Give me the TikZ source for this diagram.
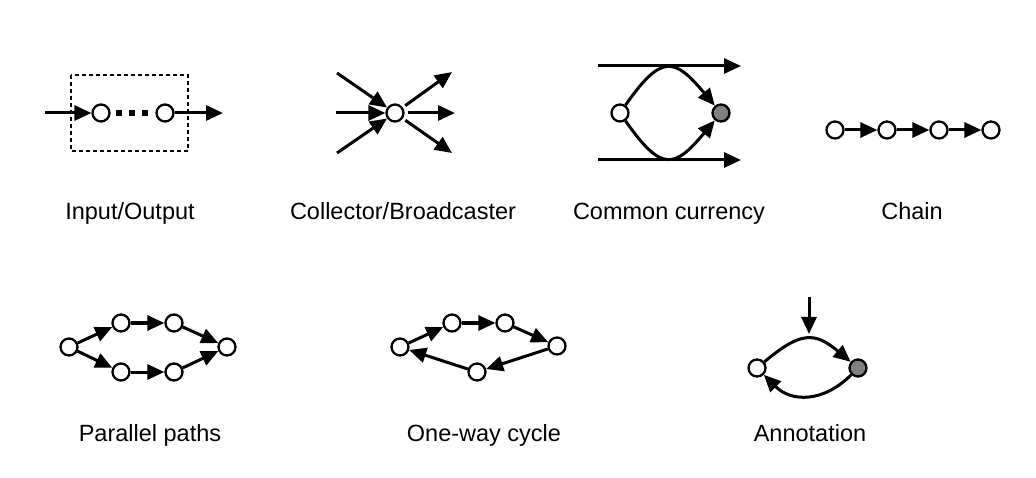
\documentclass[tikz,border=0pt]{standalone}
\usepackage{fontspec}
\setmainfont{Liberation Sans}
\usetikzlibrary{arrows.meta}
\begin{document}
\begin{tikzpicture}[x=1pt,y=-1pt,
  nd/.style={circle,draw,line width=2.3pt,minimum size=17pt,inner sep=0pt,fill=white},
  gnd/.style={nd,fill=gray},
  arr/.style={line width=3pt,-{Triangle[length=17pt,width=15pt]}},
  dotsq/.style={fill=black,minimum size=6pt,inner sep=0pt},
  lbl/.style={anchor=base,font=\fontsize{23.5}{28}\selectfont}]
\useasboundingbox (0,0) rectangle (1036,478);
% Input/Output
\draw[line width=1.6pt,dash pattern=on 4pt off 3pt] (71,75) rectangle (188,151);
\node[nd] (io1) at (101,113) {};
\node[nd] (io2) at (165,113) {};
\node[dotsq] (d1) at (119,113) {};
\node[dotsq] (d2) at (132,113) {};
\node[dotsq] (d3) at (145,113) {};
\coordinate (ioin) at (45,113);
\coordinate (ioout) at (223,113);
\draw[arr] (ioin) -- (io1);
\draw[arr] (io2) -- (ioout);
\node[lbl] (lio) at (130,220) {Input/Output};
% Collector/Broadcaster
\node[nd] (cb) at (395,113) {};
\coordinate (ci1) at (337,73);
\coordinate (ci2) at (336,113);
\coordinate (ci3) at (337,153);
\coordinate (co1) at (452,72);
\coordinate (co2) at (455,113);
\coordinate (co3) at (452,153);
\draw[arr] (ci1) -- (cb);
\draw[arr] (ci2) -- (cb);
\draw[arr] (ci3) -- (cb);
\draw[arr,shorten <=3pt] (cb) -- (co1);
\draw[arr,shorten <=3pt] (cb) -- (co2);
\draw[arr,shorten <=3pt] (cb) -- (co3);
\node[lbl] (lcb) at (403,220) {Collector/Broadcaster};
% Common currency
\coordinate (t1) at (598,66);
\coordinate (t2) at (741,66);
\coordinate (b1) at (598,160);
\coordinate (b2) at (741,160);
\draw[arr] (t1) -- (t2);
\draw[arr] (b1) -- (b2);
\node[nd] (ccl) at (620,113) {};
\node[gnd] (ccr) at (721,113) {};
\draw[arr] (ccl) to[out=55,in=130,looseness=1.8] (ccr);
\draw[arr] (ccl) to[out=-55,in=-130,looseness=1.8] (ccr);
\node[lbl] (lcc) at (669,220) {Common currency};
% Chain
\node[nd] (ch1) at (835,130) {};
\node[nd] (ch2) at (887,130) {};
\node[nd] (ch3) at (939,130) {};
\node[nd] (ch4) at (991,130) {};
\draw[arr] (ch1) -- (ch2);
\draw[arr] (ch2) -- (ch3);
\draw[arr] (ch3) -- (ch4);
\node[lbl] (lch) at (912,220) {Chain};
% Parallel paths
\node[nd] (pl) at (69,347) {};
\node[nd] (pt1) at (121,323) {};
\node[nd] (pt2) at (174,323) {};
\node[nd] (pb1) at (121,372) {};
\node[nd] (pb2) at (174,372) {};
\node[nd] (pr) at (227,347) {};
\draw[arr] (pl) -- (pt1);
\draw[arr] (pt1) -- (pt2);
\draw[arr] (pt2) -- (pr);
\draw[arr] (pl) -- (pb1);
\draw[arr] (pb1) -- (pb2);
\draw[arr] (pb2) -- (pr);
\node[lbl] (lpp) at (150,441) {Parallel paths};
% One-way cycle
\node[nd] (o1) at (400,347) {};
\node[nd] (o2) at (452,323) {};
\node[nd] (o3) at (505,323) {};
\node[nd] (o4) at (557,346) {};
\node[nd] (o5) at (477,372) {};
\draw[arr] (o1) -- (o2);
\draw[arr] (o2) -- (o3);
\draw[arr] (o3) -- (o4);
\draw[arr] (o4) -- (o5);
\draw[arr] (o5) -- (o1);
\node[lbl] (low) at (484,441) {One-way cycle};
% Annotation
\node[nd] (al) at (757,368) {};
\node[gnd] (ar) at (858,368) {};
\coordinate (an1) at (809,297);
\coordinate (an2) at (809,334);
\draw[arr] (an1) -- (an2);
\draw[arr] (al) to[out=40,in=140,looseness=1.4] (ar);
\draw[arr] (ar) to[out=-135,in=-45,looseness=1.15] (al);
\node[lbl] (lan) at (810,441) {Annotation};
\end{tikzpicture}
\end{document}
